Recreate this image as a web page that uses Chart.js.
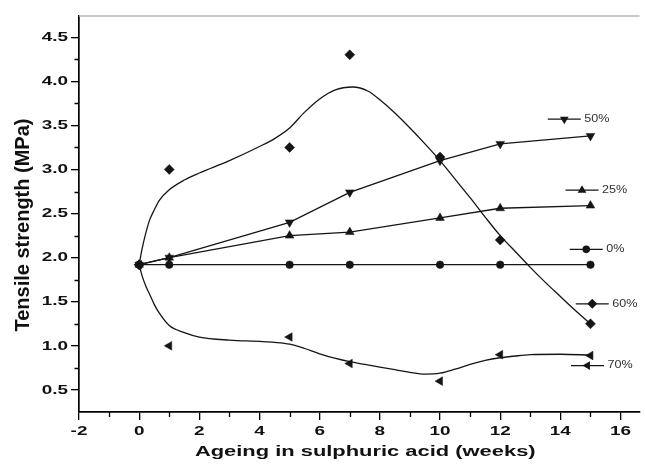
<!DOCTYPE html>
<html>
<head>
<meta charset="utf-8">
<script src="https://cdn.jsdelivr.net/npm/chart.js@4/dist/chart.umd.min.js"></script>
<style>
  html, body { margin: 0; padding: 0; background: #ffffff; }
  canvas { display: block; }
</style>
</head>
<body>
<canvas id="chart" width="645" height="469"></canvas>
<script>
// Tensile strength after ageing in sulphuric acid of different concentrations
const weeks  = [0, 1, 5, 7, 10, 12, 15];
const acid0  = [1.92, 1.92, 1.92, 1.92, 1.92, 1.92, 1.92];
const acid25 = [1.92, 2.00, 2.25, 2.29, 2.45, 2.56, 2.59];
const acid50 = [1.92, 2.00, 2.40, 2.74, 3.10, 3.29, 3.38];
const acid60 = [1.92, 3.00, 3.25, 4.30, 3.14, 2.20, 1.25];
const acid70 = [1.92, 1.00, 1.10, 0.80, 0.60, 0.90, 0.89];

// smoothed trend curves for the 60% and 70% series
const fit60Weeks = [0, 0.08, 0.17, 0.34, 0.5, 0.67, 1, 1.5, 2, 3, 4, 4.5, 5, 5.5, 6, 6.5, 7.1, 7.6, 8, 8.5, 9, 9.5, 10, 10.5, 11, 11.5, 12, 12.5, 13, 13.5, 14, 14.5, 15];
const fit60      = [1.92, 2.07, 2.21, 2.42, 2.54, 2.65, 2.77, 2.88, 2.96, 3.10, 3.26, 3.35, 3.47, 3.65, 3.80, 3.90, 3.935, 3.89, 3.79, 3.64, 3.47, 3.29, 3.10, 2.89, 2.68, 2.46, 2.25, 2.07, 1.89, 1.72, 1.56, 1.40, 1.25];
const fit70Weeks = [0, 0.1, 0.23, 0.34, 0.5, 0.67, 1, 1.5, 2, 3, 4, 4.5, 5, 5.5, 6, 6.5, 7, 7.5, 8, 8.5, 9, 9.5, 10, 10.5, 11, 11.5, 12, 12.5, 13, 14, 15];
const fit70      = [1.92, 1.79, 1.67, 1.59, 1.47, 1.37, 1.23, 1.15, 1.10, 1.065, 1.05, 1.04, 1.02, 0.97, 0.91, 0.86, 0.82, 0.79, 0.76, 0.73, 0.70, 0.68, 0.69, 0.735, 0.79, 0.835, 0.865, 0.885, 0.90, 0.905, 0.895];

// axis ticks
const xTicks = [-2, 0, 2, 4, 6, 8, 10, 12, 14, 16];
const xMinor = [-1, 1, 3, 5, 7, 9, 11, 13, 15];
const yTicks = [0.5, 1.0, 1.5, 2.0, 2.5, 3.0, 3.5, 4.0, 4.5];
const yMinor = [0.75, 1.25, 1.75, 2.25, 2.75, 3.25, 3.75, 4.25];
const xTitle = 'Ageing in sulphuric acid (weeks)';
const yTitle = 'Tensile strength (MPa)';

const INK = '#151515';
const pts = (xs, ys) => xs.map((x, i) => ({ x, y: ys[i] }));

const markers = {
  '0%':  { pointStyle: 'circle',   radius: 3.8, rotation: 0 },
  '25%': { pointStyle: 'triangle', radius: 5,   rotation: 0 },
  '50%': { pointStyle: 'triangle', radius: 5,   rotation: 180 },
  '60%': { pointStyle: 'rectRot',  radius: 5,   rotation: 0 },
  '70%': { pointStyle: 'triangle', radius: 5,   rotation: -90 }
};

function series(label, ys, line) {
  const m = markers[label];
  return {
    label,
    data: pts(weeks, ys),
    showLine: line,
    borderColor: INK,
    backgroundColor: INK,
    borderWidth: 1.3,
    pointStyle: m.pointStyle,
    pointRadius: m.radius,
    pointRotation: m.rotation,
    pointBackgroundColor: INK,
    pointBorderColor: INK,
    pointBorderWidth: 0.5,
    tension: 0
  };
}

function curve(label, xs, ys) {
  return {
    label,
    data: pts(xs, ys),
    showLine: true,
    borderColor: INK,
    borderWidth: 1.3,
    pointRadius: 0,
    cubicInterpolationMode: 'monotone'
  };
}

function drawMarker(ctx, m, x, y) {
  ctx.save();
  ctx.translate(x, y);
  ctx.rotate(m.rotation * Math.PI / 180);
  ctx.beginPath();
  const r = m.radius;
  if (m.pointStyle === 'circle') {
    ctx.arc(0, 0, r, 0, Math.PI * 2);
  } else if (m.pointStyle === 'rectRot') {
    ctx.moveTo(0, -r); ctx.lineTo(r, 0); ctx.lineTo(0, r); ctx.lineTo(-r, 0);
  } else {
    for (let k = 0; k < 3; k++) {
      const a = k * 2 * Math.PI / 3;
      const px = Math.sin(a) * r, py = -Math.cos(a) * r;
      if (k === 0) ctx.moveTo(px, py); else ctx.lineTo(px, py);
    }
  }
  ctx.closePath();
  ctx.fillStyle = INK;
  ctx.fill();
  ctx.restore();
}

function stretchedText(ctx, text, x, y, align, sx) {
  ctx.save();
  ctx.translate(x, y);
  ctx.scale(sx, 1);
  ctx.textAlign = align;
  ctx.textBaseline = 'middle';
  ctx.fillText(text, 0, 0);
  ctx.restore();
}

// axis decorations, labels and the in-plot key
const decorations = {
  id: 'decorations',
  afterDraw(chart, args, opts) {
    const { ctx, chartArea: a } = chart;
    const xs = chart.scales.x, ys = chart.scales.y;
    ctx.save();

    // light frame line along the top
    ctx.strokeStyle = '#b4b4b4';
    ctx.lineWidth = 1.5;
    ctx.beginPath();
    ctx.moveTo(a.left, a.top);
    ctx.lineTo(a.right, a.top);
    ctx.stroke();

    // minor ticks
    ctx.strokeStyle = '#000';
    ctx.lineWidth = 1.3;
    ctx.beginPath();
    xMinor.forEach(v => {
      const px = Math.round(xs.getPixelForValue(v)) + 0.5;
      ctx.moveTo(px, a.bottom); ctx.lineTo(px, a.bottom + 5);
    });
    yMinor.forEach(v => {
      const py = Math.round(ys.getPixelForValue(v)) + 0.5;
      ctx.moveTo(a.left, py); ctx.lineTo(a.left - 4.5, py);
    });
    ctx.stroke();

    // tick labels
    ctx.fillStyle = '#111';
    ctx.font = 'bold 13.5px "Liberation Sans", Arial, sans-serif';
    xTicks.forEach(v => {
      stretchedText(ctx, String(v), xs.getPixelForValue(v), a.bottom + 19, 'center', 1.4);
    });
    yTicks.forEach(v => {
      stretchedText(ctx, v.toFixed(1), a.left - 11, ys.getPixelForValue(v), 'right', 1.4);
    });

    // axis titles
    ctx.font = 'bold 15px "Liberation Sans", Arial, sans-serif';
    stretchedText(ctx, xTitle, (a.left + a.right) / 2 + 6, a.bottom + 40, 'center', 1.46);
    ctx.save();
    ctx.translate(23, (a.top + a.bottom) / 2 + 11);
    ctx.rotate(-Math.PI / 2);
    ctx.font = 'bold 20px "Liberation Sans", Arial, sans-serif';
    ctx.textAlign = 'center';
    ctx.textBaseline = 'middle';
    ctx.fillText(yTitle, 0, 0);
    ctx.restore();

    // key entries placed inside the plot
    opts.entries.forEach(e => {
      const cx = xs.getPixelForValue(e.x);
      const cy = ys.getPixelForValue(e.y);
      ctx.strokeStyle = INK;
      ctx.lineWidth = 1.3;
      ctx.beginPath();
      ctx.moveTo(cx - 16.5, cy); ctx.lineTo(cx + 16.5, cy);
      ctx.stroke();
      drawMarker(ctx, markers[e.label], cx, cy);
      ctx.fillStyle = '#333';
      ctx.font = '10.5px "Liberation Sans", Arial, sans-serif';
      stretchedText(ctx, e.label, cx + 20, cy, 'left', 1.2);
    });

    ctx.restore();
  }
};

const axisCommon = {
  type: 'linear',
  ticks: { display: false },
  grid: { display: true, drawOnChartArea: false, drawTicks: true, tickLength: 8, color: '#000', lineWidth: 1.3 },
  border: { display: true, color: '#000', width: 1.7 }
};

new Chart(document.getElementById('chart'), {
  type: 'scatter',
  data: {
    datasets: [
      curve('60% trend', fit60Weeks, fit60),
      curve('70% trend', fit70Weeks, fit70),
      series('0%', acid0, true),
      series('25%', acid25, true),
      series('50%', acid50, true),
      series('60%', acid60, false),
      series('70%', acid70, false)
    ]
  },
  options: {
    responsive: false,
    animation: false,
    devicePixelRatio: 1,
    layout: { padding: { top: 16, left: 0, right: 0, bottom: 0 } },
    plugins: {
      legend: { display: false },
      tooltip: { enabled: false },
      decorations: {
        entries: [
          { label: '50%', x: 14.13, y: 3.57 },
          { label: '25%', x: 14.72, y: 2.765 },
          { label: '0%',  x: 14.86, y: 2.094 },
          { label: '60%', x: 15.06, y: 1.477 },
          { label: '70%', x: 14.90, y: 0.776 }
        ]
      }
    },
    scales: {
      x: Object.assign({}, axisCommon, {
        min: -2, max: 16.63,
        afterBuildTicks: s => { s.ticks = xTicks.map(v => ({ value: v })); },
        afterFit: s => { s.height = 57; }
      }),
      y: Object.assign({}, axisCommon, {
        min: 0.25, max: 4.74,
        afterBuildTicks: s => { s.ticks = yTicks.map(v => ({ value: v })); },
        afterFit: s => { s.width = 79; }
      })
    }
  },
  plugins: [decorations]
});
</script>
</body>
</html>
